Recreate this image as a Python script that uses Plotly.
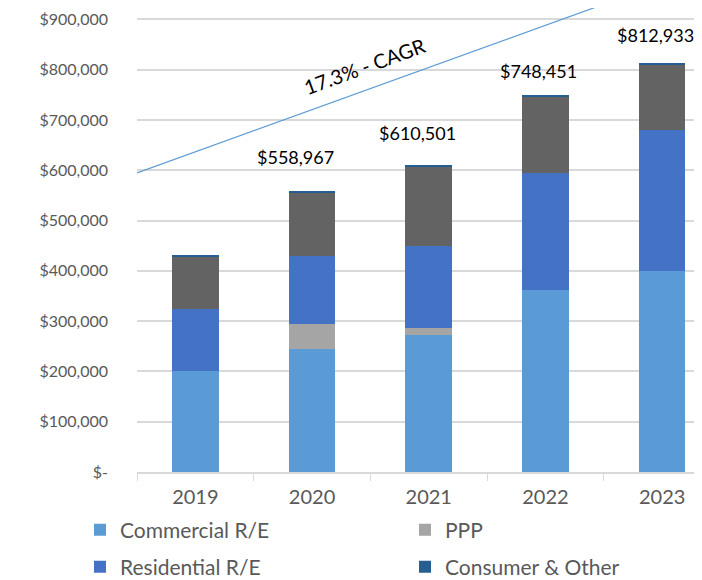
import plotly.graph_objects as go

years = ["2019", "2020", "2021", "2022", "2023"]
commercial_re = [201000, 244000, 271600, 361100, 398900]
ppp = [0, 51000, 14700, 0, 0]
residential_re = [124000, 135000, 163700, 233400, 281700]
c_and_i = [104000, 126500, 157700, 151700, 129900]
consumer_other = [1500, 2467, 2801, 2251, 2433]
total_labels = ["", "$558,967", "$610,501", "$748,451", "$812,933"]
y_ticks = [0, 100000, 200000, 300000, 400000, 500000, 600000, 700000, 800000, 900000]
y_tick_text = ["$-", "$100,000", "$200,000", "$300,000", "$400,000", "$500,000",
               "$600,000", "$700,000", "$800,000", "$900,000"]
cagr_text = "17.3% - CAGR"
cagr_line_x = [-0.5, 4.0]
cagr_line_y = [594600, 972000]

FONT = "Lato"
TICK_GRAY = "#595959"

# page body has an 8px margin; the layout below compensates for it
fig = go.Figure()
series = [
    ("Commercial R/E", commercial_re, "#5B9BD5", "legend"),
    ("PPP", ppp, "#A5A5A5", "legend2"),
    ("Residential R/E", residential_re, "#4472C4", "legend3"),
    ("C&I", c_and_i, "#636363", None),
    ("Consumer & Other", consumer_other, "#255E91", "legend4"),
]
for name, vals, color, leg in series:
    kw = dict(legend=leg) if leg else dict(showlegend=False)
    fig.add_trace(go.Bar(
        x=years, y=vals, name=name, marker=dict(color=color, line=dict(width=0)),
        hoverinfo="name+y", **kw,
    ))

legend_font = dict(size=21, color=TICK_GRAY, family=FONT)
col_x = [-0.0995, 0.4677]
row_y = [-0.125, -0.2047]
def leg(x, y):
    return dict(orientation="h", x=x, xanchor="left", y=y, yanchor="middle",
                font=legend_font, bgcolor="rgba(0,0,0,0)")

fig.update_layout(
    barmode="stack",
    bargap=0.6,
    width=702, height=580,
    margin=dict(l=129, r=0, t=0, b=116),
    plot_bgcolor="white", paper_bgcolor="white",
    font=dict(family=FONT, color=TICK_GRAY),
    xaxis=dict(
        type="category", range=[-0.5, 4.41],
        tickson="boundaries", ticks="outside", ticklen=7, tickcolor="#D9D9D9",
        showline=True, linecolor="#D9D9D9", linewidth=1.5,
        showgrid=False, tickfont=dict(size=20, color=TICK_GRAY, family=FONT),
        ticklabelstandoff=6,
    ),
    yaxis=dict(
        range=[0, 922600], tickmode="array", tickvals=y_ticks, ticktext=y_tick_text,
        showgrid=True, gridcolor="#D9D9D9", gridwidth=1.5, zeroline=False,
        showline=False, tickfont=dict(size=16, color=TICK_GRAY, family=FONT),
        ticklabelstandoff=28,
    ),
    legend=leg(col_x[0], row_y[0]),
    legend2=leg(col_x[1], row_y[0]),
    legend3=leg(col_x[0], row_y[1]),
    legend4=leg(col_x[1], row_y[1]),
)

fig.add_shape(type="line", xref="x", yref="y",
              x0=cagr_line_x[0], y0=cagr_line_y[0], x1=cagr_line_x[1], y1=cagr_line_y[1],
              line=dict(color="#5B9BD5", width=1.2))

fig.add_annotation(x=1.448, y=807000, xref="x", yref="y", text=cagr_text, showarrow=False,
                   textangle=-20, font=dict(size=20, color="black", family=FONT))

label_offsets = [(0, 0), (-0.14, 34), (-0.10, 32), (-0.06, 25), (-0.06, 28)]
totals = [sum(v) for v in zip(commercial_re, ppp, residential_re, c_and_i, consumer_other)]
for i, lab in enumerate(total_labels):
    if not lab:
        continue
    dx, dy = label_offsets[i]
    fig.add_annotation(x=i + dx, y=totals[i], xref="x", yref="y", text=lab, showarrow=False,
                       yshift=dy, font=dict(size=18, color="black", family=FONT))

fig.write_html("out.html")
